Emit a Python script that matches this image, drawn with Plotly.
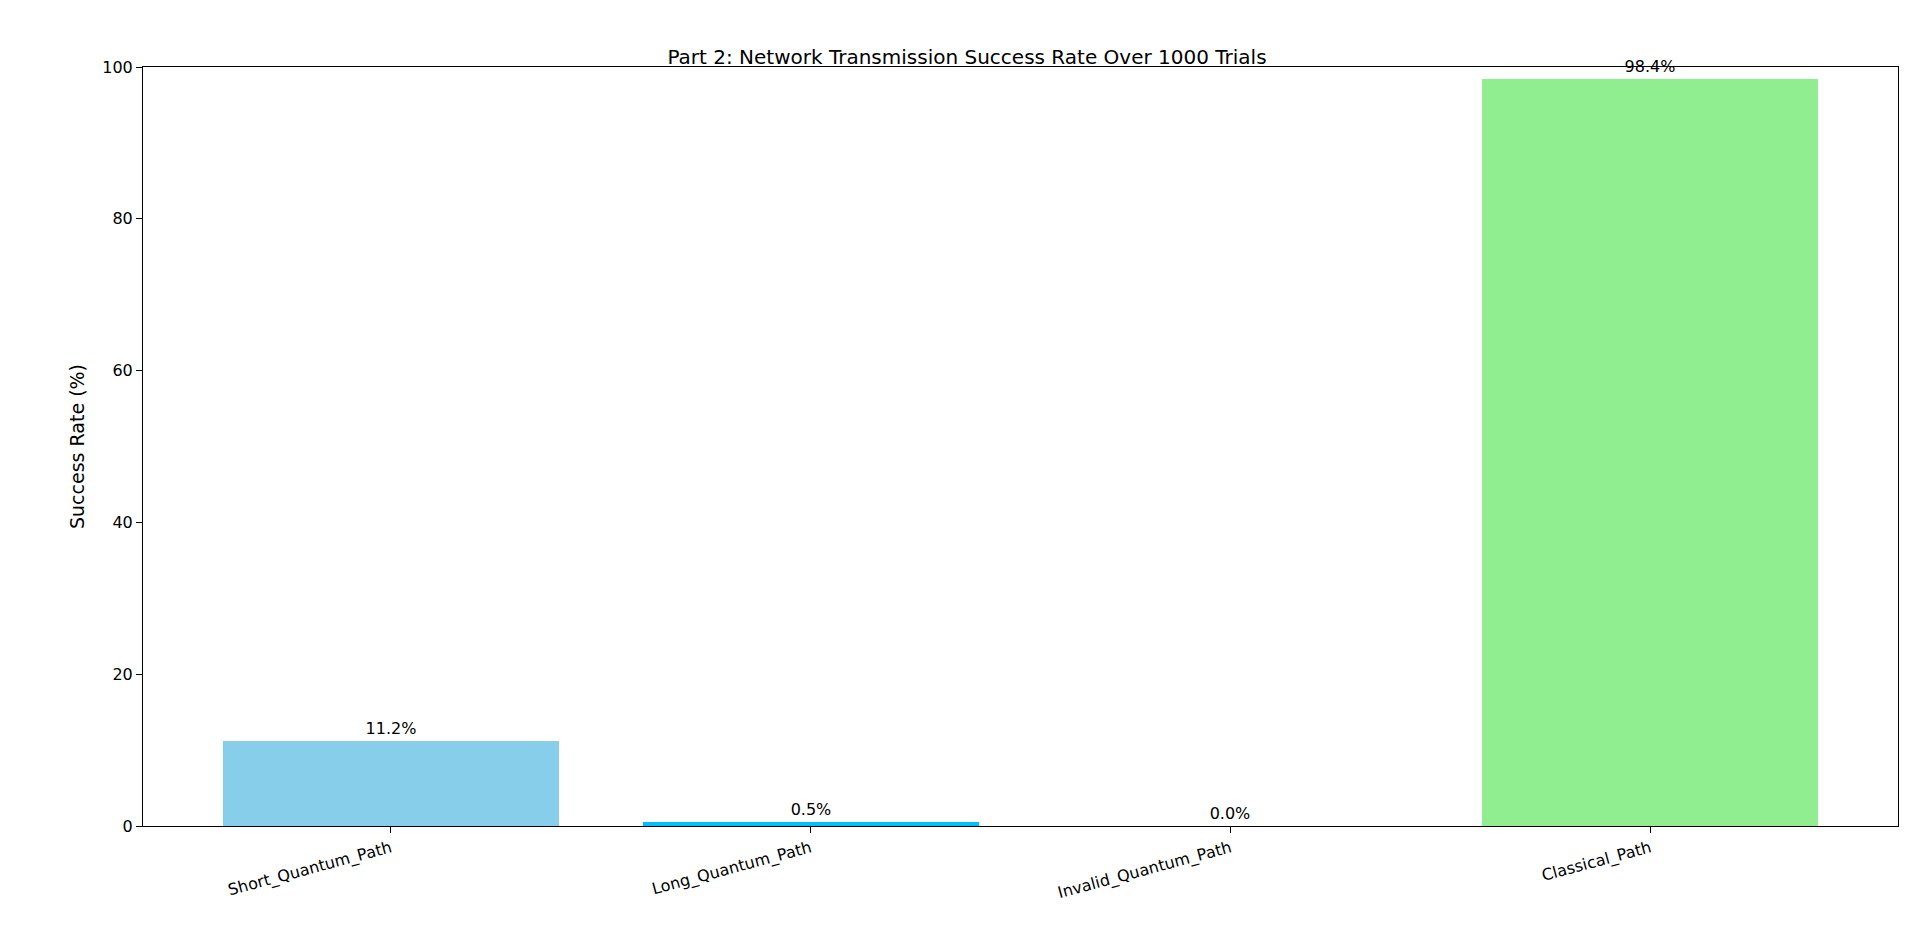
import plotly.graph_objects as go

# path types and success rates (%)
paths = ['Short_Quantum_Path', 'Long_Quantum_Path', 'Invalid_Quantum_Path', 'Classical_Path']
success_rate = [11.2, 0.5, 0.0, 98.4]
bar_colors = ['#87CEEB', '#00BFFF', '#FF7F7F', '#90EE90']

fig = go.Figure(go.Bar(
    x=list(range(len(paths))),
    y=success_rate,
    width=0.8,
    marker=dict(color=bar_colors, line=dict(width=0)),
    text=[f'{v:.1f}%' for v in success_rate],
    textposition='outside',
    cliponaxis=False,
    textfont=dict(size=16, color='black'),
))

fig.update_layout(
    width=1918, height=935,
    paper_bgcolor='white', plot_bgcolor='white',
    font=dict(family='DejaVu Sans', size=16, color='black'),
    margin=dict(l=135, r=28, t=59, b=117),
    title=dict(text='Part 2: Network Transmission Success Rate Over 1000 Trials',
               x=0.5, xanchor='center', y=0.955, font=dict(size=20)),
    showlegend=False,
    bargap=0,
)
fig.update_xaxes(
    range=[-0.59, 3.59], tickvals=list(range(len(paths))), ticktext=paths,
    tickangle=-15, showgrid=False, zeroline=False,
    showline=True, linecolor='black', mirror=True,
    ticks='outside', ticklen=6, tickcolor='black',
)
fig.update_yaxes(
    range=[0, 100], dtick=20, title=dict(text='Success Rate (%)', standoff=12),
    showgrid=False, zeroline=False,
    showline=True, linecolor='black', mirror=True,
    ticks='outside', ticklen=6, tickcolor='black',
)

fig.write_html('out.html')
